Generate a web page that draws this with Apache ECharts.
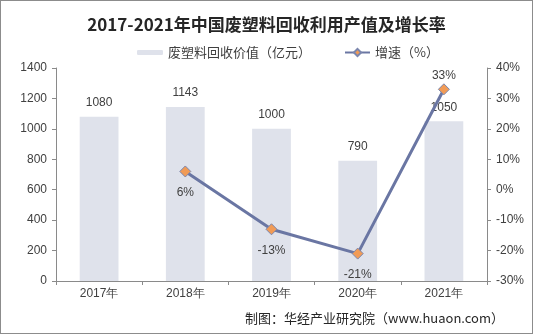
<!DOCTYPE html>
<html><head><meta charset="utf-8">
<script src="https://cdn.jsdelivr.net/npm/echarts@6/dist/echarts.min.js"></script>
<style>html,body{margin:0;padding:0;background:#fff}
#c{position:absolute;left:0;top:0;width:531px;height:332px;border:1px solid #8c8c8c}</style>
</head><body><div id="c"></div>
<script>
const categories = ['2017年','2018年','2019年','2020年','2021年'];
const outputValue = [1080,1143,1000,790,1050];
const growthRate = [null,6,-13,-21,33];
const growthLabelPos = ['bottom','bottom','bottom','bottom','top'];
const leftTicks = {min:0,max:1400,interval:200};
const rightTicks = {min:-30,max:40,interval:10};

const chart = echarts.init(document.getElementById('c'));
const txt = '#404040';
const axisCol = '#8a8a8a';
const numFont = 'Liberation Sans, Arial, sans-serif';
chart.setOption({
  animation:false,
  title:{text:'2017-2021年中国废塑料回收利用产值及增长率',left:'center',top:10,
    textStyle:{fontFamily:'Noto Sans CJK SC',fontWeight:'bold',fontSize:17,color:'#262626'}},
  legend:[{data:['废塑料回收价值（亿元）'],left:131,top:40,itemWidth:26,itemHeight:5,itemGap:6,
      textStyle:{fontFamily:'Noto Sans CJK SC',fontSize:13,color:txt}},
    {data:['增速（%）'],left:338,top:40,itemWidth:25,itemHeight:9,itemGap:4,
      textStyle:{fontFamily:'Noto Sans CJK SC',fontSize:13,color:txt}}],
  grid:{left:55,right:45,top:67,bottom:52},
  xAxis:{type:'category',data:categories,
    axisLine:{lineStyle:{color:axisCol}},
    axisTick:{show:true,length:4,lineStyle:{color:axisCol}},
    axisLabel:{color:txt,fontSize:12,margin:7,fontFamily:numFont}},
  yAxis:[{type:'value',min:leftTicks.min,max:leftTicks.max,interval:leftTicks.interval,
      axisLine:{show:true,lineStyle:{color:axisCol}},
      axisTick:{show:true,length:4,lineStyle:{color:axisCol}},
      splitLine:{show:false},
      axisLabel:{color:txt,fontSize:12,margin:9,fontFamily:numFont,formatter:v=>String(v)}},
    {type:'value',min:rightTicks.min,max:rightTicks.max,interval:rightTicks.interval,position:'right',
      axisLine:{show:true,lineStyle:{color:axisCol}},
      axisTick:{show:true,length:4,lineStyle:{color:axisCol}},
      splitLine:{show:false},
      axisLabel:{color:txt,fontSize:12,margin:9,formatter:v=>v+'%',fontFamily:numFont}}],
  series:[
    {name:'废塑料回收价值（亿元）',type:'bar',data:outputValue,barWidth:'45%',
      itemStyle:{color:'#dfe2eb'},
      label:{show:true,position:'top',distance:8,color:txt,fontSize:12,fontFamily:numFont}},
    {name:'增速（%）',type:'line',yAxisIndex:1,
      data:growthRate.map((v,i)=>({value:v,label:{position:growthLabelPos[i],distance:growthLabelPos[i]==='top'?2:9}})),
      symbol:'diamond',symbolSize:11,
      lineStyle:{color:'#6a76a3',width:3},
      itemStyle:{color:'#f19b56',borderColor:'#7b86ad',borderWidth:1},
      label:{show:true,formatter:'{c}%',color:txt,fontSize:12,fontFamily:numFont}}
  ],
  graphic:[{type:'text',right:28,top:311,style:{text:'制图：华经产业研究院（www.huaon.com）',
    fill:'#262626',fontSize:13,fontFamily:'Noto Sans CJK SC'}}]
});
</script></body></html>
